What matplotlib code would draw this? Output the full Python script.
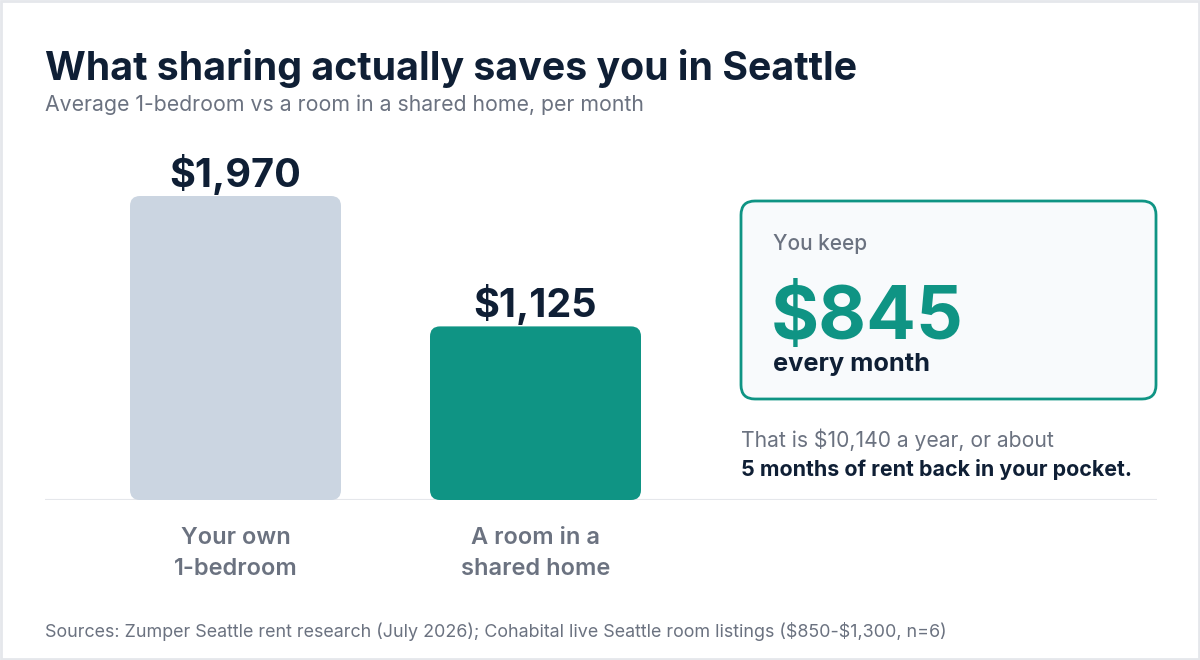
import matplotlib.pyplot as plt
from matplotlib.patches import FancyBboxPatch

# data
categories = ["Your own\n1-bedroom", "A room in a\nshared home"]
rents = [1970, 1125]
savings = 845
yearly = 10140
months_back = 5

title = "What sharing actually saves you in Seattle"
subtitle = "Average 1-bedroom vs a room in a shared home, per month"
source = "Sources: Zumper Seattle rent research (July 2026); Cohabital live Seattle room listings ($850-$1,300, n=6)"

DARK = "#0f1f35"
GRAY = "#6b7280"
TEAL = "#0f9484"
BAR_GRAY = "#cbd5e1"

plt.rcParams["font.family"] = ["Inter", "DejaVu Sans"]

fig = plt.figure(figsize=(12, 6.6), dpi=100)
fig.patch.set_facecolor("white")

# overlay axes in pixel coordinates for text and the callout box
ov = fig.add_axes([0, 0, 1, 1])
ov.set_xlim(0, 1200)
ov.set_ylim(660, 0)
ov.axis("off")
ov.add_patch(plt.Rectangle((1, 1), 1198, 658, fill=False, edgecolor="#e5e7eb", linewidth=2))

# bar chart axes
ax = fig.add_axes([45 / 1200, 160 / 660, 1112 / 1200, 360 / 660])
ax.set_facecolor("none")
px_x = 1 / 300          # data units per pixel in x
px_y = 1970 / 304       # data units per pixel in y
ax.set_xlim(-190.5 * px_x, 921.5 * px_x)
ax.set_ylim(0, 360 * px_y)
ax.axis("off")

width = 211 * px_x
colors = [BAR_GRAY, TEAL]
for i, (cat, val) in enumerate(zip(categories, rents)):
    bar = FancyBboxPatch((i - width / 2, 0), width, val,
                         boxstyle=f"round,pad=0,rounding_size={10 * px_x}",
                         mutation_aspect=px_y / px_x,
                         facecolor=colors[i], edgecolor="none", zorder=2)
    ax.add_patch(bar)
    ax.annotate(f"${val:,}", (i, val), xytext=(0, 6.5), textcoords="offset points",
                ha="center", va="baseline", fontsize=28.5, fontweight="bold", color=DARK)
    ax.annotate(cat, (i, 0), xytext=(0, -19.5), textcoords="offset points",
                ha="center", va="top", fontsize=17, fontweight="semibold", color=GRAY,
                linespacing=1.5, annotation_clip=False)

ax.axhline(0, color="#e5e7eb", linewidth=1.5, zorder=1)

# titles
ov.text(45, 80, title, fontsize=28.3, fontweight="bold", color=DARK, va="baseline")
ov.text(45, 111, subtitle, fontsize=15.3, color=GRAY, va="baseline")

# callout box
box = FancyBboxPatch((741, 201), 415, 198, boxstyle="round,pad=0,rounding_size=14",
                     facecolor="#f8fafc", edgecolor=TEAL, linewidth=2)
ov.add_patch(box)
ov.text(773, 250, "You keep", fontsize=15, fontweight="medium", color=GRAY, va="baseline")
ov.text(771, 339, f"${savings}", fontsize=53, fontweight="bold", color=TEAL, va="baseline")
ov.text(773, 371, "every month", fontsize=18.3, fontweight="bold", color=DARK, va="baseline")

ov.text(741, 447, f"That is ${yearly:,} a year, or about", fontsize=15.2, color=GRAY, va="baseline")
ov.text(741, 476, f"{months_back} months of rent back in your pocket.", fontsize=15.4,
        fontweight="bold", color=DARK, va="baseline")

ov.text(45, 637, source, fontsize=12.9, color=GRAY, va="baseline", parse_math=False)

fig.savefig("out.png", dpi=100, facecolor="white")
